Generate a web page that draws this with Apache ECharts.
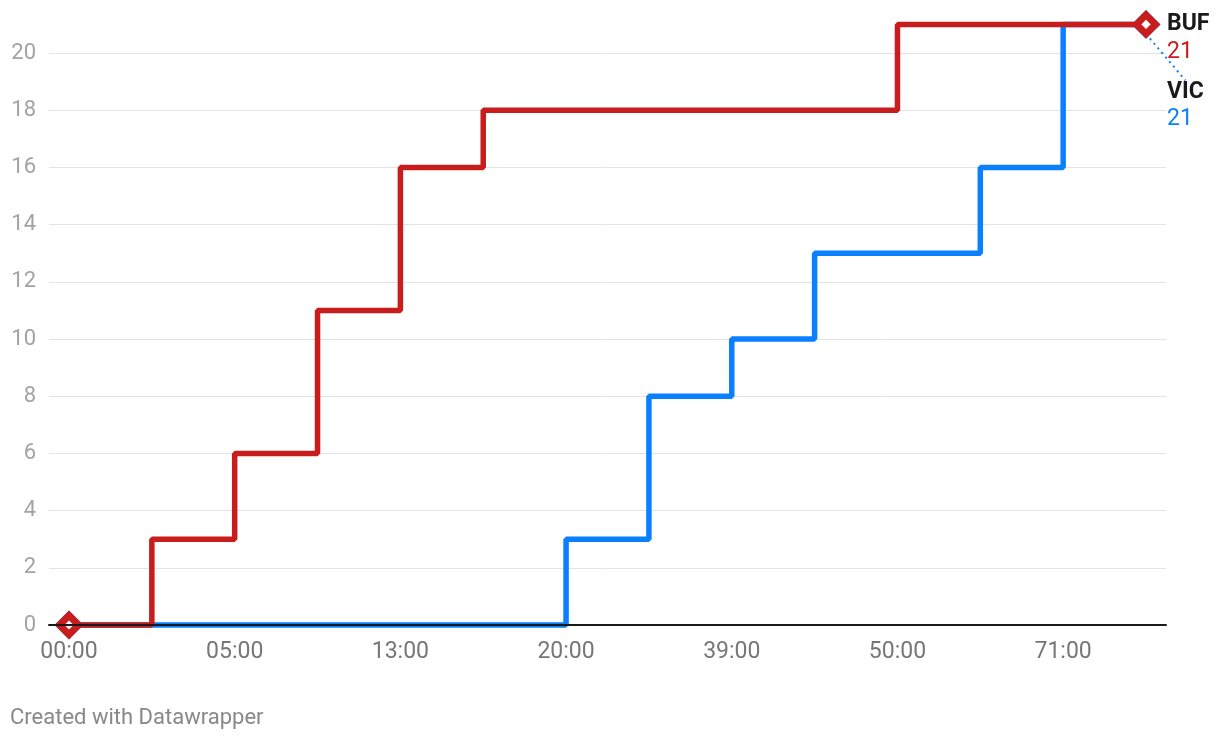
<!DOCTYPE html>
<html>
<head>
<meta charset="utf-8">
<script src="https://cdn.jsdelivr.net/npm/echarts@6/dist/echarts.min.js"></script>
<style>
html,body{margin:0;padding:0;background:#fff;}
#chart{width:1220px;height:742px;}
</style>
</head>
<body>
<div id="chart"></div>
<script>
// Step index (0..13) along the x axis
const steps = [0,1,2,3,4,5,6,7,8,9,10,11,12,13];
const bufValues = [0,3,6,11,16,18,18,18,18,18,21,21,21,21];
const vicValues = [0,0,0,0,0,0,3,8,10,13,13,16,21,21];
const xTickSteps = [0,2,4,6,8,10,12];
const xTickLabels = ['00:00','05:00','13:00','20:00','39:00','50:00','71:00'];
const yTicks = [0,2,4,6,8,10,12,14,16,18,20];
const seriesNames = ['BUF','VIC'];

const RED = '#c91d1d';
const BLUE = '#0a80ff';
const FONT = 'Roboto, "Noto Sans", sans-serif';
const last = steps.length - 1;

function pts(vals){ return steps.map((s,i)=>[s, vals[i]]); }

const bufData = pts(bufValues).map((p,i)=> i===last ? {value:p, label:{show:true}} : p);
const vicData = pts(vicValues).map((p,i)=> i===last ? {value:p, label:{show:true}} : p);

const chart = echarts.init(document.getElementById('chart'), null, {renderer:'canvas'});
chart.setOption({
  animation:false,
  backgroundColor:'#fff',
  textStyle:{fontFamily:FONT},
  grid:{left:49, right:54, top:53, bottom:117, containLabel:false},
  xAxis:{
    type:'value', min:-0.2414, max:13.2414, z:10,
    axisLine:{show:true, lineStyle:{color:'#1a1a1a', width:2}},
    axisTick:{show:false},
    splitLine:{show:false},
    axisLabel:{
      customValues:xTickSteps,
      formatter:(v)=>{ const k = xTickSteps.indexOf(Math.round(v)); return k>=0 ? xTickLabels[k] : ''; },
      color:'#777', fontSize:23, margin:16, fontFamily:FONT
    }
  },
  yAxis:{
    type:'value', min:0, max:20, interval:2,
    axisLine:{show:false}, axisTick:{show:false},
    splitLine:{lineStyle:{color:'#e3e3e3', width:1}},
    axisLabel:{color:'#a3a3a3', fontSize:22, margin:13, fontFamily:FONT,
      formatter:(v)=> yTicks.indexOf(v)>=0 ? String(v) : ''}
  },
  series:[
    {
      name:seriesNames[1], type:'line', step:'end', clip:false,
      data:vicData, showSymbol:true,
      symbol:(val, params)=> (params.dataIndex===0 || params.dataIndex===last) ? 'diamond' : 'none',
      symbolSize:19,
      lineStyle:{color:BLUE, width:5.5},
      itemStyle:{color:'#fff', borderColor:BLUE, borderWidth:7},
      z:2,
      label:{show:false, position:'right', distance:2, padding:[0,0,0,6],
        formatter:()=> '{n|'+seriesNames[1]+'}\n{v|'+vicValues[last]+'}',
        rich:{
          n:{fontFamily:FONT, fontSize:23, fontWeight:'bold', color:'#1a1a1a', lineHeight:27},
          v:{fontFamily:FONT, fontSize:23, color:BLUE, lineHeight:27}
        }},
      labelLayout:{dy:81},
      labelLine:{show:true, lineStyle:{color:BLUE, width:2, type:[2,4]}}
    },
    {
      name:seriesNames[0], type:'line', step:'end', clip:false,
      data:bufData, showSymbol:true,
      symbol:(val, params)=> (params.dataIndex===0 || params.dataIndex===last) ? 'diamond' : 'none',
      symbolSize:19,
      lineStyle:{color:RED, width:5.5},
      itemStyle:{color:'#fff', borderColor:RED, borderWidth:7},
      z:3,
      label:{show:false, position:'right', distance:8, offset:[0,14],
        formatter:()=> '{n|'+seriesNames[0]+'}\n{v|'+bufValues[last]+'}',
        rich:{
          n:{fontFamily:FONT, fontSize:23, fontWeight:'bold', color:'#1a1a1a', lineHeight:28},
          v:{fontFamily:FONT, fontSize:23, color:RED, lineHeight:28}
        }}
    }
  ],
  graphic:[{
    type:'text', left:10, top:707,
    style:{text:'Created with Datawrapper', fill:'#888', fontSize:22, fontFamily:FONT}
  }]
});
</script>
</body>
</html>
